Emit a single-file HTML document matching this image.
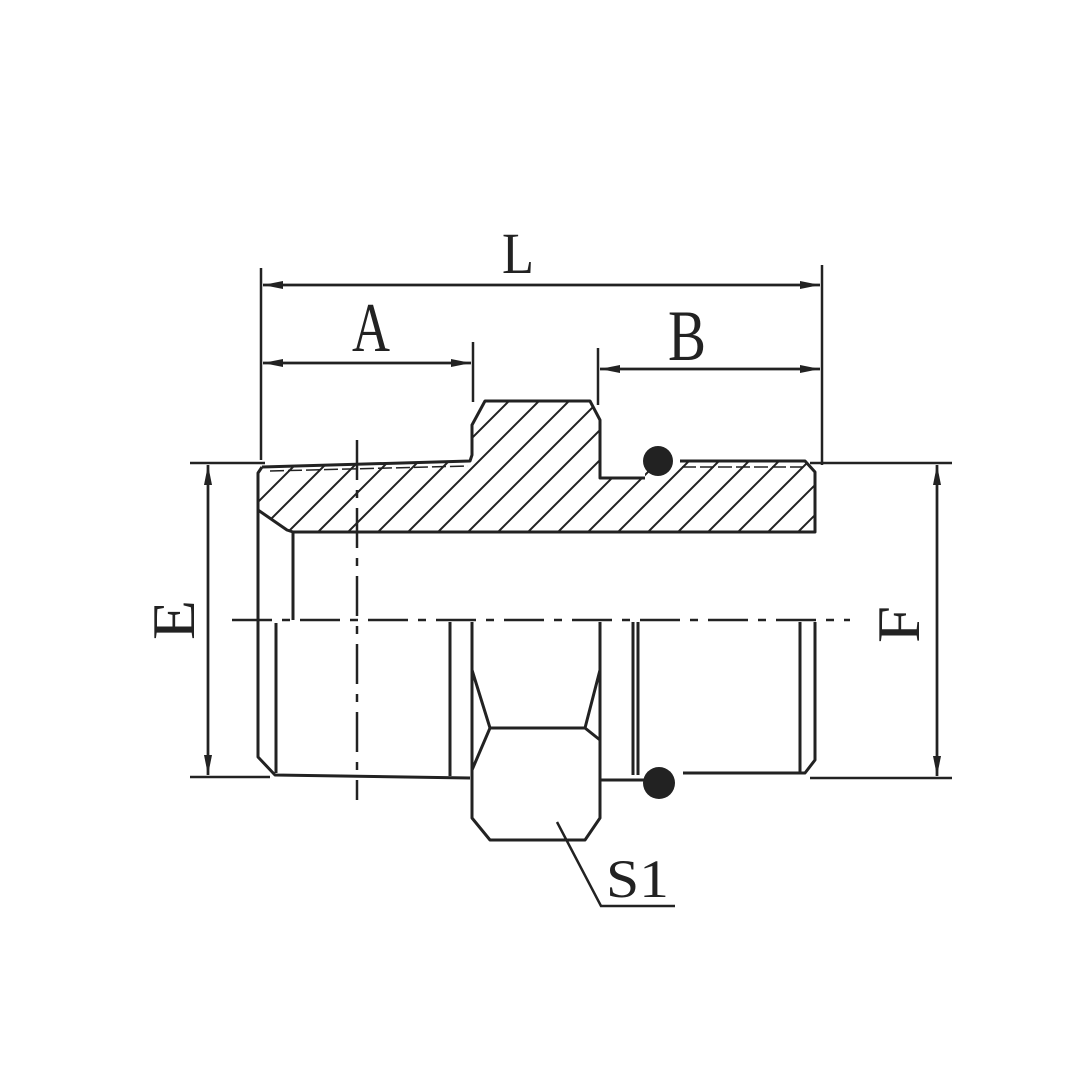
<!DOCTYPE html>
<html><head><style>html,body{margin:0;padding:0;background:#fff}svg{display:block}</style></head>
<body>
<svg width="1080" height="1080" viewBox="0 0 1080 1080" xmlns="http://www.w3.org/2000/svg">
<defs>
<clipPath id="sec"><path d="M262,467 L470,461 L472,455 L472,425 L485,401 L590,401 L600,420 L600,478 L645,478 L645,461 L805,461 L815,472 L815,532 L293,532 L287,530 L258,510 L258,473 Z"/></clipPath>
<marker id="ar" viewBox="0 0 20 8" refX="20" refY="4" markerWidth="20" markerHeight="8" orient="auto" markerUnits="userSpaceOnUse"><path d="M0,0 L20,4 L0,8 Z" fill="#222"/></marker>
</defs>
<g stroke="#222" fill="none" stroke-width="3" stroke-linejoin="round">
<!-- section outline -->
<path d="M262,467 L470,461 L472,455 L472,425 L485,401 L590,401 L600,420 L600,478 L645,478 M680,461 L805,461 L815,472 L815,532 L293,532 L287,530 L258,510 L258,473 L262,467" />
<g clip-path="url(#sec)" stroke-width="2">
<path d="M200,560 L380,380 M230,560 L410,380 M260,560 L440,380 M290,560 L470,380 M320,560 L500,380 M350,560 L530,380 M380,560 L560,380 M410,560 L590,380 M440,560 L620,380 M470,560 L650,380 M500,560 L680,380 M530,560 L710,380 M560,560 L740,380 M590,560 L770,380 M620,560 L800,380 M650,560 L830,380 M680,560 L860,380 M710,560 L890,380 M740,560 L920,380 M770,560 L950,380 M800,560 L980,380"/>
</g>
<path d="M270,471 L468,466 M682,467 L803,467" stroke-width="1.5" stroke-dasharray="14,4"/>
<!-- left inner -->
<path d="M293,533 L293,620"/>
<path d="M258,510 L258,757 L275,775 L470,778"/>
<path d="M276,623 L276,773"/>
<path d="M450,622 L450,776 M472,622 L472,778"/>
<!-- hex -->
<path d="M472,670 L490,728 L585,728 L600,670"/>
<path d="M490,728 L472,770 L472,818 L490,840 L585,840 L600,818 L600,622"/>
<path d="M600,740 L585,728"/>
<!-- right -->
<path d="M633,622 L633,775 M638,622 L638,775"/>
<path d="M683,773 L805,773 L815,760 L815,622 M800,622 L800,772"/>
<path d="M600,780 L645,780"/>
</g>
<!-- center lines -->
<g stroke="#222" stroke-width="2.5" fill="none">
<path d="M232,620 L850,620" stroke-dasharray="40,10,8,10"/>
<path d="M357,440 L357,800" stroke-dasharray="40,10,8,10"/>
</g>
<!-- o-rings -->
<circle cx="658" cy="461" r="15" fill="#222"/>
<circle cx="659" cy="783" r="16" fill="#222"/>
<!-- dimensions -->
<g stroke="#222" stroke-width="2.5" fill="none">
<path d="M261,268 L261,460 M822,265 L822,465"/>
<path d="M473,342 L473,402 M598,348 L598,405"/>
<path d="M263,285 L820,285" marker-end="url(#ar)"/>
<path d="M820,285 L263,285" marker-end="url(#ar)"/>
<path d="M263,363 L471,363" marker-end="url(#ar)"/>
<path d="M471,363 L263,363" marker-end="url(#ar)"/>
<path d="M600,369 L820,369" marker-end="url(#ar)"/>
<path d="M820,369 L600,369" marker-end="url(#ar)"/>
<path d="M190,463 L265,463 M190,777 L270,777 M810,463 L952,463 M810,778 L952,778"/>
<path d="M208,465 L208,775" marker-end="url(#ar)"/>
<path d="M208,775 L208,465" marker-end="url(#ar)"/>
<path d="M937,465 L937,776" marker-end="url(#ar)"/>
<path d="M937,776 L937,465" marker-end="url(#ar)"/>
<path d="M557,822 L601,906 L675,906"/>
</g>
<g font-family="Liberation Serif, serif" fill="#222">
<text x="502" y="273" font-size="58" textLength="32" lengthAdjust="spacingAndGlyphs">L</text>
<text x="352" y="351" font-size="70" textLength="38" lengthAdjust="spacingAndGlyphs">A</text>
<text x="668" y="360" font-size="72" textLength="38" lengthAdjust="spacingAndGlyphs">B</text>
<text x="606" y="897" font-size="54" textLength="63" lengthAdjust="spacingAndGlyphs">S1</text>
<text transform="translate(194,640) rotate(-90)" font-size="60" textLength="40" lengthAdjust="spacingAndGlyphs">E</text>
<text transform="translate(919,643) rotate(-90)" font-size="60" textLength="37" lengthAdjust="spacingAndGlyphs">F</text>
</g>
</svg>
</body></html>
